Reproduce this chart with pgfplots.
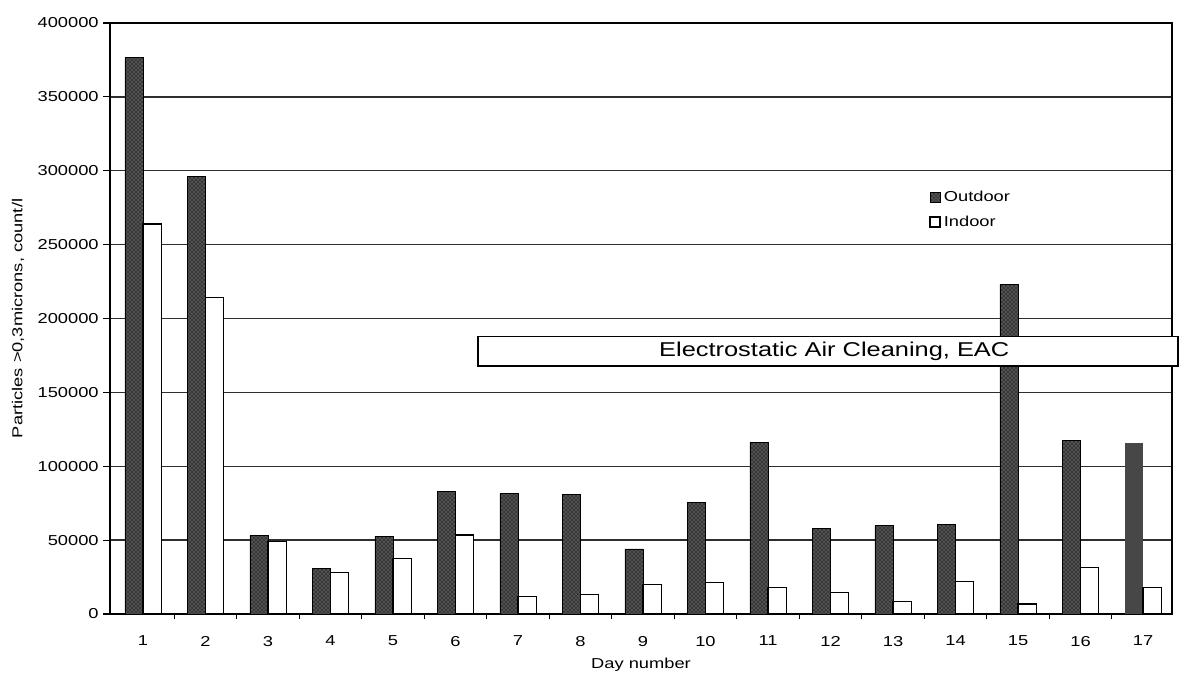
\documentclass[border=0pt]{standalone}
\usepackage{fontspec}
\setmainfont{Liberation Sans}[FakeStretch=1.27]
\usepackage{graphicx}
\usepackage{pgfplots}
\pgfplotsset{compat=1.18}
\usetikzlibrary{patterns}
\definecolor{solidbar}{HTML}{474747}
\begin{document}
\begin{tikzpicture}[x=1pt,y=1pt]
\begin{axis}[
  at={(0,0)}, anchor=south west,
  scale only axis, width=796.5pt, height=443.25pt,
  clip=false,
  ybar, bar width=0.29,
  xmin=0.472, xmax=17.464, ymin=0, ymax=400000,
  xtick={1,2,3,4,5,6,7,8,9,10,11,12,13,14,15,16,17},
  xticklabels={1,2,3,4,5,6,7,8,9,10,11,12,13,14,15,16,17},
  minor xtick={1.5,2.5,3.5,4.5,5.5,6.5,7.5,8.5,9.5,10.5,11.5,12.5,13.5,14.5,15.5,16.5},
  ytick={0,50000,100000,150000,200000,250000,300000,350000,400000},
  yticklabels={0,50000,100000,150000,200000,250000,300000,350000,400000},
  scaled y ticks=false,
  tick align=outside,
  xtick pos=bottom, ytick pos=left,
  major x tick style={draw=none},
  minor x tick style={black, line width=0.6pt},
  minor tick length=4pt,
  major tick length=5pt,
  ytick style={black, line width=0.9pt},
  ymajorgrids, grid style={black!82, line width=1pt},
  axis line style={black, line width=1pt},
  tick label style={font=\fontsize{10.8}{12}\selectfont},
  xticklabel style={yshift=-8pt},
  xlabel={Day number},
  xlabel style={at={(axis description cs:0.5,-0.0863)}, anchor=center, font=\fontsize{10.8}{12}\selectfont},
  ylabel={Particles \textgreater0,3microns, count/l},
  ylabel style={at={(axis description cs:-0.0866,0.5)}, anchor=center, font=\fontsize{10.8}{12}\selectfont},
  legend image code/.code={\draw[#1] (0pt,-3.6pt) rectangle (7.5pt,3.9pt);},
  legend style={draw=none, fill=none, at={(rel axis cs:0.77,0.722)}, anchor=north west,
    font=\fontsize{10.8}{12}\selectfont, row sep=5pt, inner sep=1pt,
    nodes={inner xsep=2.5pt}},
  legend cell align=left,
]
\addplot[bar shift=-0.145, draw=black, line width=0.5pt, fill=black!78,
  postaction={pattern=crosshatch dots, pattern color=black!35}]
  coordinates {(1,376700) (2,296000) (3,53000) (4,31000) (5,52500) (6,82800)
  (7,81400) (8,80700) (9,44000) (10,75500) (11,116000) (12,58000) (13,60000)
  (14,60700) (15,223000) (16,117600)};
\addlegendentry{Outdoor}
\addplot[bar shift=-0.145, draw=none, fill=solidbar, forget plot]
  coordinates {(17,115500)};
\addplot[bar shift=0.145, draw=black, line width=0.9pt, fill=white]
  coordinates {(1,264000) (2,214000) (3,49000) (4,28000) (5,37600) (6,53500)
  (7,11600) (8,13000) (9,19900) (10,21200) (11,17800) (12,14400) (13,8200)
  (14,21900) (15,6800) (16,31500) (17,17800)};
\addlegendentry{Indoor}
\draw[fill=white, line width=0.8pt] (axis cs:6.36,167850) rectangle (axis cs:17.56,187500);
\draw[line width=1.8pt] (axis cs:6.36,167850) -- (axis cs:17.56,167850);
\node[font=\fontsize{15}{17}\selectfont, anchor=center] at (axis cs:12.06,178000) {Electrostatic Air Cleaning, EAC};
\end{axis}
\pgfresetboundingbox
\path (-82.5pt,-48pt) rectangle (801.75pt,460.5pt);
\end{tikzpicture}
\end{document}
